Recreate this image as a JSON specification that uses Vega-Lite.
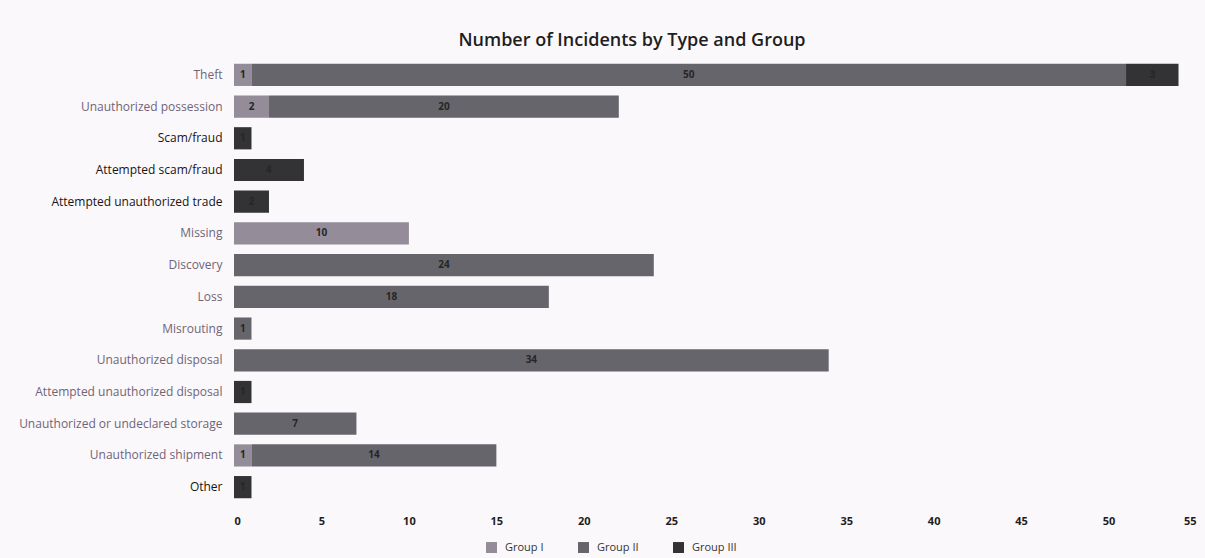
{
  "$schema": "https://vega.github.io/schema/vega-lite/v6.json",
  "width": 962,
  "height": 444,
  "autosize": {"type": "none"},
  "padding": {"left": 234, "top": 59, "right": 9, "bottom": 55},
  "background": "#fbf8fb",
  "config": {
    "font": "Open Sans",
    "view": {"stroke": null}
  },
  "title": {
    "text": "Number of Incidents by Type and Group",
    "fontSize": 18,
    "fontWeight": 600,
    "color": "#1e1e1e",
    "anchor": "middle",
    "dx": -83,
    "offset": 9
  },
  "data": {
    "values": [
      {"type": "Theft", "group": "Group I", "value": 1},
      {"type": "Theft", "group": "Group II", "value": 50},
      {"type": "Theft", "group": "Group III", "value": 3},
      {"type": "Unauthorized possession", "group": "Group I", "value": 2},
      {"type": "Unauthorized possession", "group": "Group II", "value": 20},
      {"type": "Scam/fraud", "group": "Group III", "value": 1},
      {"type": "Attempted scam/fraud", "group": "Group III", "value": 4},
      {"type": "Attempted unauthorized trade", "group": "Group III", "value": 2},
      {"type": "Missing", "group": "Group I", "value": 10},
      {"type": "Discovery", "group": "Group II", "value": 24},
      {"type": "Loss", "group": "Group II", "value": 18},
      {"type": "Misrouting", "group": "Group II", "value": 1},
      {"type": "Unauthorized disposal", "group": "Group II", "value": 34},
      {"type": "Attempted unauthorized disposal", "group": "Group III", "value": 1},
      {"type": "Unauthorized or undeclared storage", "group": "Group II", "value": 7},
      {"type": "Unauthorized shipment", "group": "Group I", "value": 1},
      {"type": "Unauthorized shipment", "group": "Group II", "value": 14},
      {"type": "Other", "group": "Group III", "value": 1}
    ]
  },
  "transform": [
    {"stack": "value", "groupby": ["type"], "sort": [{"field": "group", "order": "ascending"}], "as": ["v0", "v1"]},
    {"calculate": "(datum.v0 + datum.v1) / 2", "as": "mid"}
  ],
  "encoding": {
    "y": {
      "field": "type",
      "type": "nominal",
      "sort": ["Theft", "Unauthorized possession", "Scam/fraud", "Attempted scam/fraud", "Attempted unauthorized trade", "Missing", "Discovery", "Loss", "Misrouting", "Unauthorized disposal", "Attempted unauthorized disposal", "Unauthorized or undeclared storage", "Unauthorized shipment", "Other"],
      "scale": {"paddingInner": 0.3, "paddingOuter": 0.15},
      "axis": {
        "title": null,
        "domain": false,
        "ticks": false,
        "labelPadding": 12,
        "labelFontSize": 12,
        "labelLimit": 400,
        "labelColor": {
          "condition": {"test": "indexof(['Scam/fraud','Attempted scam/fraud','Attempted unauthorized trade','Other'], datum.value) >= 0", "value": "#151515"},
          "value": "#6f6478"
        }
      }
    }
  },
  "layer": [
    {
      "mark": {"type": "bar"},
      "encoding": {
        "x": {
          "field": "v0",
          "type": "quantitative",
          "scale": {"domain": [0, 55], "nice": false},
          "axis": {
            "title": null,
            "values": [0, 5, 10, 15, 20, 25, 30, 35, 40, 45, 50, 55],
            "grid": false,
            "domain": false,
            "ticks": false,
            "labelPadding": 12,
            "labelFontSize": 11,
            "labelFontWeight": "bold",
            "labelColor": "#1e1e1e"
          }
        },
        "x2": {"field": "v1"},
        "color": {
          "field": "group",
          "type": "nominal",
          "scale": {"domain": ["Group I", "Group II", "Group III"], "range": ["#948c98", "#67656c", "#333235"]},
          "legend": {
            "title": null,
            "orient": "none",
            "direction": "horizontal",
            "legendX": 252,
            "legendY": 483,
            "symbolType": "square",
            "symbolSize": 120,
            "symbolStrokeWidth": 0,
            "symbolOpacity": 1,
            "labelFontSize": 11,
            "labelColor": "#333",
            "labelOffset": 8,
            "columnPadding": 34
          }
        }
      }
    },
    {
      "mark": {"type": "text", "fontSize": 10, "fontWeight": "bold", "color": "#262626"},
      "encoding": {
        "x": {"field": "mid", "type": "quantitative"},
        "text": {"field": "value", "type": "quantitative"}
      }
    }
  ]
}
